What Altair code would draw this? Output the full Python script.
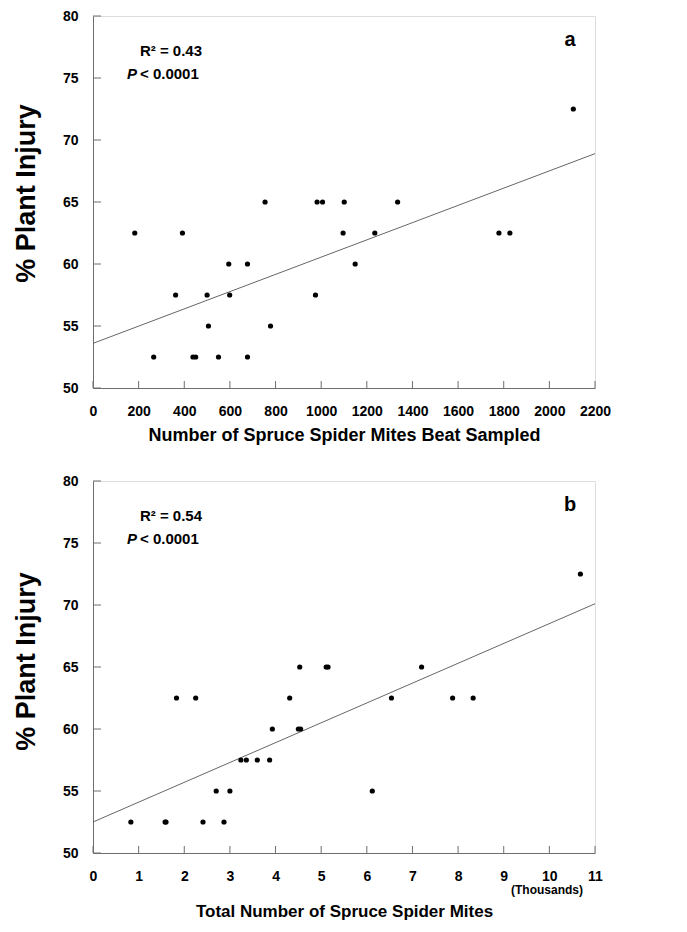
import altair as alt
import pandas as pd

# Panel a: beat-sampled mites vs % plant injury
a_x = [183, 266, 362, 392, 438, 450, 500, 506, 550, 595, 599, 677, 677,
       754, 778, 975, 982, 1006, 1096, 1101, 1149, 1235, 1335, 1779, 1827, 2105]
a_y = [62.5, 52.5, 57.5, 62.5, 52.5, 52.5, 57.5, 55, 52.5, 60, 57.5, 60, 52.5,
       65, 55, 57.5, 65, 65, 62.5, 65, 60, 62.5, 65, 62.5, 62.5, 72.5]
a_fit_x = [0, 2200]
a_fit_y = [53.6, 68.9]

# Panel b: total mites (thousands) vs % plant injury
b_x = [0.83, 1.58, 1.60, 1.83, 2.25, 2.41, 2.70, 2.87, 3.00, 3.24, 3.36, 3.60,
       3.87, 3.93, 4.31, 4.50, 4.55, 4.53, 5.11, 5.15, 6.12, 6.54, 7.20, 7.88,
       8.33, 10.68]
b_y = [52.5, 52.5, 52.5, 62.5, 62.5, 52.5, 55, 52.5, 55, 57.5, 57.5, 57.5,
       57.5, 60, 62.5, 60, 60, 65, 65, 65, 55, 62.5, 65, 62.5, 62.5, 72.5]
b_fit_x = [0, 11]
b_fit_y = [52.5, 70.1]

y_ticks = [50, 55, 60, 65, 70, 75, 80]
a_ticks = list(range(0, 2201, 200))
b_ticks = list(range(0, 12))

FONT = "Liberation Sans"
AX = "#6e6e6e"
W, H = 502, 372


def panel(px, py, fx, fy, xticks, xdom, xtitle, xtitle_size, letter, r2,
          label_pad, title_pad, ytitle_y, extra=None):
    pts = pd.DataFrame({"x": px, "y": py})
    fit = pd.DataFrame({"x": fx, "y": fy})
    xs = alt.Scale(domain=xdom, nice=False, zero=False)
    ys = alt.Scale(domain=[50, 80], nice=False, zero=False)
    xaxis = alt.Axis(values=xticks, tickSize=0, labelPadding=label_pad, format="d",
                     title=xtitle, titlePadding=title_pad, grid=False,
                     labelFont=FONT, labelFontSize=14, labelFontWeight="bold",
                     labelColor="black", titleFont=FONT, titleFontSize=xtitle_size,
                     titleFontWeight="bold", titleColor="black",
                     domainColor=AX, labelFlush=False)
    yaxis = alt.Axis(values=y_ticks, tickSize=0, labelPadding=15,
                     title="% Plant Injury", titlePadding=22, grid=False,
                     titleY=ytitle_y,
                     labelFont=FONT, labelFontSize=14, labelFontWeight="bold",
                     labelColor="black", titleFont=FONT, titleFontSize=27,
                     titleFontWeight="bold", titleColor="black",
                     domainColor=AX)
    points = alt.Chart(pts).mark_circle(size=27, color="black", opacity=1).encode(
        x=alt.X("x:Q", scale=xs, axis=xaxis),
        y=alt.Y("y:Q", scale=ys, axis=yaxis),
    )
    line = alt.Chart(fit).mark_line(color="#555555", strokeWidth=0.9).encode(
        x=alt.X("x:Q", scale=xs), y=alt.Y("y:Q", scale=ys))
    yt = alt.Chart(pd.DataFrame({"v": y_ticks})).mark_rule(color=AX, strokeWidth=1).encode(
        y=alt.Y("v:Q", scale=ys), x=alt.value(0), x2=alt.value(8))
    xt = alt.Chart(pd.DataFrame({"v": xticks})).mark_rule(color=AX, strokeWidth=1).encode(
        x=alt.X("v:Q", scale=xs), y=alt.value(H), y2=alt.value(H - 7))
    base = alt.Chart(pd.DataFrame({"d": [0]}))
    t_r2 = base.mark_text(font=FONT, fontSize=15, fontWeight="bold", align="center",
                          baseline="middle", color="black").encode(
        x=alt.value(78), y=alt.value(35), text=alt.value(r2))
    t_p = base.mark_text(font=FONT, fontSize=15, fontWeight="bold", fontStyle="italic",
                         align="right", baseline="middle", color="black").encode(
        x=alt.value(44), y=alt.value(58), text=alt.value("P"))
    t_pv = base.mark_text(font=FONT, fontSize=15, fontWeight="bold", align="left",
                          baseline="middle", color="black").encode(
        x=alt.value(47), y=alt.value(58), text=alt.value("< 0.0001"))
    t_l = base.mark_text(font=FONT, fontSize=20, fontWeight="bold", align="center",
                         baseline="middle", color="black").encode(
        x=alt.value(477), y=alt.value(24), text=alt.value(letter))
    layers = [line, points, yt, xt, t_r2, t_p, t_pv, t_l]
    if extra is not None:
        layers.append(base.mark_text(font=FONT, fontSize=12, fontWeight="bold",
                                     align="center", baseline="middle", color="black").encode(
            x=alt.value(454), y=alt.value(409), text=alt.value(extra)))
    return alt.layer(*layers).properties(width=W, height=H)


pa = panel(a_x, a_y, a_fit_x, a_fit_y, a_ticks, [0, 2200],
           "Number of Spruce Spider Mites Beat Sampled", 18, "a", "R² = 0.43",
           16, 8, 177)
pb = panel(b_x, b_y, b_fit_x, b_fit_y, b_ticks, [0, 11],
           "Total Number of Spruce Spider Mites", 17, "b", "R² = 0.54",
           16, 20, 180, extra="(Thousands)")

chart = alt.vconcat(pa, pb, spacing=28).configure_view(
    stroke=AX, strokeWidth=1).configure(
    background="white", padding={"top": 0, "left": 3, "right": 5, "bottom": 5})

chart.save("out.html", embed_options={"renderer": "svg", "actions": False})
